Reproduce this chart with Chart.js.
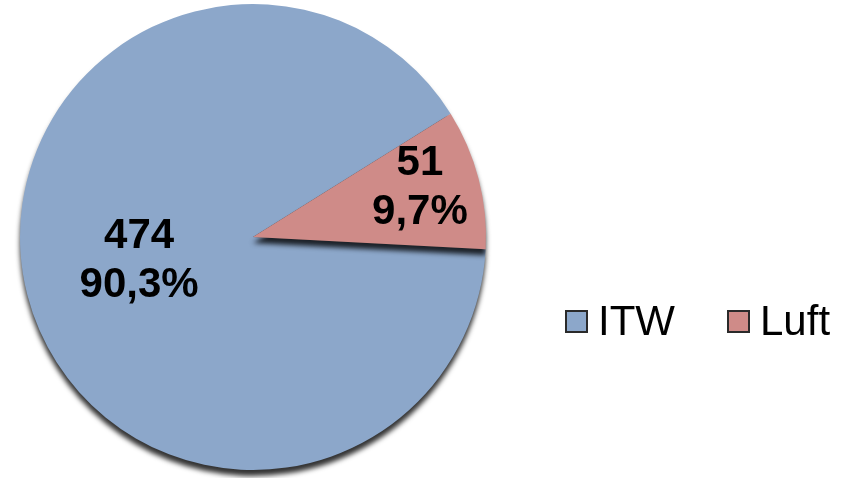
<!DOCTYPE html>
<html>
<head>
<meta charset="utf-8">
<script src="https://cdn.jsdelivr.net/npm/chart.js@4/dist/chart.umd.min.js"></script>
<style>
  html, body { margin: 0; padding: 0; background: #fff; }
  #wrap { width: 841px; height: 478px; }
</style>
</head>
<body>
<div id="wrap"><canvas id="pieChart"></canvas></div>
<script>
const labels = ['ITW', 'Luft'];
const counts = [474, 51];
const percents = ['90,3%', '9,7%'];
const colors = ['#8CA7CA', '#CF8B88'];

// where the two-line value label sits along each slice's middle angle
const labelRadius = [0.505, 0.74];

const valueLabels = {
    id: 'valueLabels',
    afterDatasetsDraw(chart) {
        const ctx = chart.ctx;
        const meta = chart.getDatasetMeta(0);
        ctx.save();
        ctx.font = 'bold 42px "Liberation Sans", Arial, sans-serif';
        ctx.fillStyle = '#000';
        ctx.textAlign = 'center';
        ctx.textBaseline = 'middle';
        meta.data.forEach((arc, i) => {
            const p = arc.getProps(['x', 'y', 'startAngle', 'endAngle', 'outerRadius'], true);
            const mid = (p.startAngle + p.endAngle) / 2;
            const r = p.outerRadius * labelRadius[i];
            const x = p.x + Math.cos(mid) * r;
            const y = p.y + Math.sin(mid) * r - 5;
            ctx.fillText(String(counts[i]), x, y - 25);
            ctx.fillText(percents[i], x, y + 24);
        });
        ctx.restore();
    }
};

const pieShadow = {
    id: 'pieShadow',
    beforeDatasetsDraw(chart) {
        const ctx = chart.ctx;
        ctx.save();
        ctx.shadowColor = 'rgba(0,0,0,0.8)';
        ctx.shadowBlur = 5;
        ctx.shadowOffsetY = 6;
    },
    afterDatasetsDraw(chart) {
        chart.ctx.restore();
    }
};

const sideLegend = {
    id: 'sideLegend',
    afterDraw(chart) {
        const ctx = chart.ctx;
        const xs = [566, 728];
        const y = 322;
        ctx.save();
        ctx.font = '42px "Liberation Sans", Arial, sans-serif';
        ctx.textBaseline = 'middle';
        chart.data.labels.forEach((lab, i) => {
            const bx = xs[i];
            ctx.fillStyle = colors[i];
            ctx.fillRect(bx, y - 11, 21, 21);
            ctx.strokeStyle = '#2a2a2a';
            ctx.lineWidth = 2;
            ctx.strokeRect(bx, y - 11, 21, 21);
            ctx.fillStyle = '#000';
            ctx.fillText(lab, bx + 32, y + 1);
        });
        ctx.restore();
    }
};

new Chart(document.getElementById('pieChart'), {
    type: 'pie',
    data: {
        labels: labels,
        datasets: [{
            data: counts,
            backgroundColor: colors,
            borderWidth: 0
        }]
    },
    options: {
        responsive: true,
        maintainAspectRatio: false,
        animation: false,
        rotation: 93,
        layout: {
            padding: { left: 20, right: 355, top: 4, bottom: 8 }
        },
        plugins: {
            legend: { display: false },
            tooltip: { enabled: false }
        }
    },
    plugins: [pieShadow, valueLabels, sideLegend]
});
</script>
</body>
</html>
